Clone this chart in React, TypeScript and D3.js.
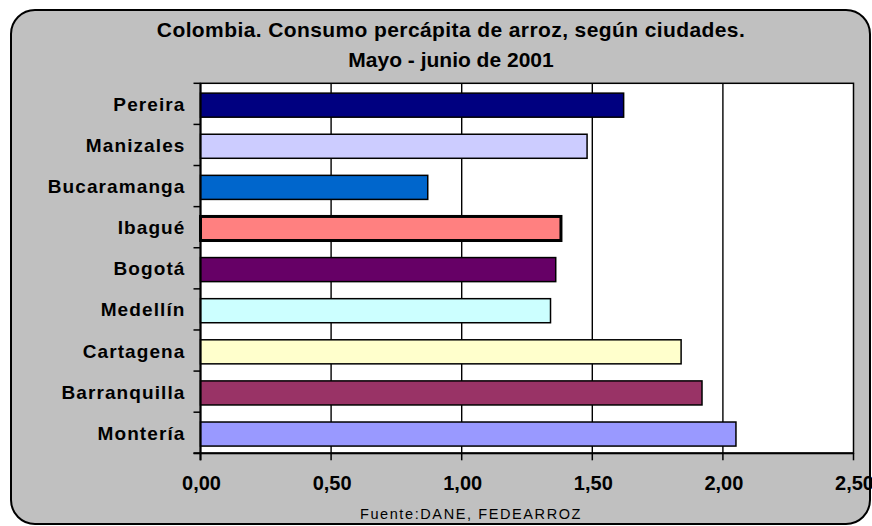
import React, { useEffect, useRef } from 'react';
import * as d3 from 'd3';

const cities = ['Pereira', 'Manizales', 'Bucaramanga', 'Ibagué', 'Bogotá', 'Medellín', 'Cartagena', 'Barranquilla', 'Montería'];
const consumo = [1.62, 1.48, 0.87, 1.38, 1.36, 1.34, 1.84, 1.92, 2.05];
const barColors = ['#000080', '#CCCCFF', '#0066CC', '#FF8080', '#660066', '#CCFFFF', '#FFFFCC', '#993366', '#9999FF'];
const xTicks = [0, 0.5, 1, 1.5, 2, 2.5];
const titleLines = ['Colombia. Consumo percápita de arroz, según ciudades.', 'Mayo - junio de 2001'];
const source = 'Fuente:DANE, FEDEARROZ';

export default function App() {
  const svgRef = useRef<SVGSVGElement>(null);

  useEffect(() => {
    if (!svgRef.current) return;
    const svg = d3.select(svgRef.current);
    svg.selectAll('*').remove();

    const W = 872, H = 526;
    const plot = { left: 200.5, right: 853.5, top: 83.3, bottom: 453.3 };

    // chart background
    svg.append('rect')
      .attr('x', 11).attr('y', 10)
      .attr('width', 859).attr('height', 514)
      .attr('rx', 24).attr('ry', 24)
      .attr('fill', '#C0C0C0')
      .attr('stroke', '#000')
      .attr('stroke-width', 2);

    const x = d3.scaleLinear().domain([0, 2.5]).range([plot.left, plot.right]);
    const y = d3.scaleBand<string>().domain(cities).range([plot.top, plot.bottom]).padding(0);

    // plot area
    svg.append('rect')
      .attr('x', plot.left).attr('y', plot.top)
      .attr('width', plot.right - plot.left).attr('height', plot.bottom - plot.top)
      .attr('fill', '#fff')
      .attr('stroke', '#000')
      .attr('stroke-width', 1.5);

    // vertical gridlines
    svg.append('g')
      .selectAll('line')
      .data(xTicks.slice(1, -1))
      .enter().append('line')
      .attr('x1', d => x(d)).attr('x2', d => x(d))
      .attr('y1', plot.top).attr('y2', plot.bottom)
      .attr('stroke', '#000')
      .attr('stroke-width', 1.4);

    // bars
    const bh = y.bandwidth() * 0.585;
    svg.append('g')
      .selectAll('rect')
      .data(cities)
      .enter().append('rect')
      .attr('x', x(0))
      .attr('y', d => (y(d) as number) + (y.bandwidth() - bh) / 2 + 1.3)
      .attr('width', (d, i) => x(consumo[i]) - x(0))
      .attr('height', bh)
      .attr('fill', (d, i) => barColors[i])
      .attr('stroke', '#000')
      .attr('stroke-width', d => (d === 'Ibagué' ? 3 : 1.5));

    // axes lines
    svg.append('line')
      .attr('x1', plot.left).attr('x2', plot.left)
      .attr('y1', plot.top).attr('y2', plot.bottom + 7)
      .attr('stroke', '#000').attr('stroke-width', 2);
    svg.append('line')
      .attr('x1', plot.left - 7).attr('x2', plot.right)
      .attr('y1', plot.bottom).attr('y2', plot.bottom)
      .attr('stroke', '#000').attr('stroke-width', 2);

    // y ticks at category boundaries
    const bounds = cities.map(c => y(c) as number).concat([plot.bottom]);
    svg.append('g')
      .selectAll('line')
      .data(bounds)
      .enter().append('line')
      .attr('x1', plot.left - 7).attr('x2', plot.left)
      .attr('y1', d => d).attr('y2', d => d)
      .attr('stroke', '#000').attr('stroke-width', 1.5);

    // x ticks
    svg.append('g')
      .selectAll('line')
      .data(xTicks)
      .enter().append('line')
      .attr('x1', d => x(d)).attr('x2', d => x(d))
      .attr('y1', plot.bottom).attr('y2', plot.bottom + 7)
      .attr('stroke', '#000').attr('stroke-width', 1.5);

    const fmt = (v: number) => v.toFixed(2).replace('.', ',');
    svg.append('g')
      .selectAll('text')
      .data(xTicks)
      .enter().append('text')
      .attr('x', d => x(d) + 1)
      .attr('y', plot.bottom + 37)
      .attr('text-anchor', 'middle')
      .attr('font-family', 'Liberation Sans, Arial, sans-serif')
      .attr('font-weight', 'bold')
      .attr('font-size', 20)
      .attr('fill', '#000')
      .text(d => fmt(d));

    // category labels
    svg.append('g')
      .selectAll('text')
      .data(cities)
      .enter().append('text')
      .attr('x', 185.5)
      .attr('y', d => (y(d) as number) + y.bandwidth() / 2 + 7)
      .attr('text-anchor', 'end')
      .attr('font-family', 'Liberation Sans, Arial, sans-serif')
      .attr('font-weight', 'bold')
      .attr('font-size', 19)
      .attr('letter-spacing', 1.1)
      .attr('fill', '#000')
      .text(d => d);

    // title
    svg.append('g')
      .selectAll('text')
      .data(titleLines)
      .enter().append('text')
      .attr('x', 451)
      .attr('y', (d, i) => 37 + i * 29.5)
      .attr('text-anchor', 'middle')
      .attr('font-family', 'Liberation Sans, Arial, sans-serif')
      .attr('font-weight', 'bold')
      .attr('font-size', 21)
      .attr('letter-spacing', (d, i) => (i === 0 ? 0.4 : 0))
      .attr('fill', '#000')
      .text(d => d);

    // source
    svg.append('text')
      .attr('x', 471)
      .attr('y', 519)
      .attr('text-anchor', 'middle')
      .attr('font-family', 'Liberation Sans, Arial, sans-serif')
      .attr('font-size', 14.5)
      .attr('letter-spacing', 1.6)
      .attr('fill', '#000')
      .text(source);

    svg.attr('width', W).attr('height', H);
  }, []);

  return (
    <div style={{ position: 'fixed', left: 0, top: 0, width: 872, height: 526, background: '#fff' }}>
      <svg ref={svgRef} width={872} height={526} style={{ display: 'block' }} />
    </div>
  );
}
